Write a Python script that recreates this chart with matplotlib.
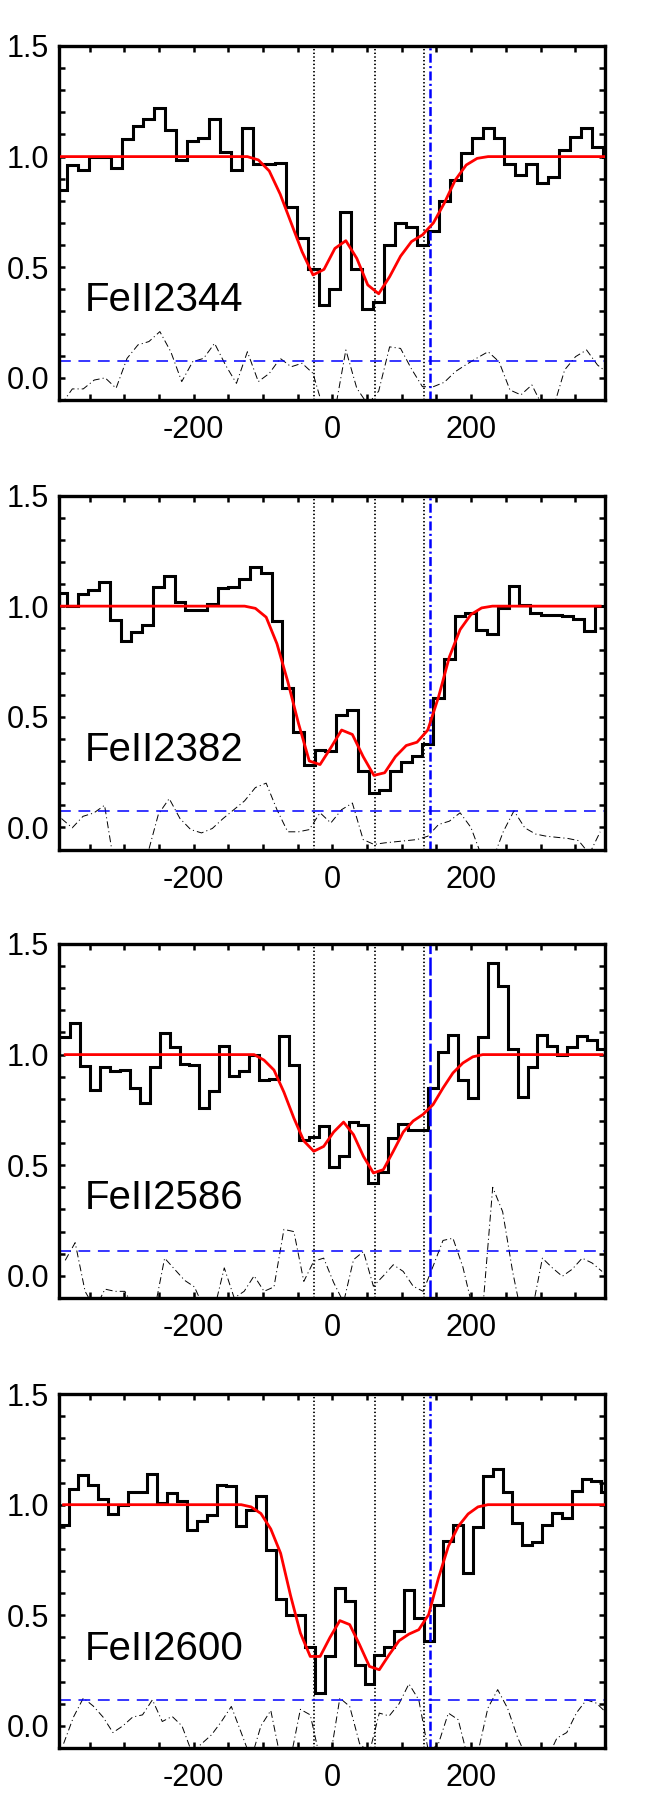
import matplotlib
matplotlib.use('Agg')
import matplotlib.pyplot as plt
import numpy as np
from matplotlib.ticker import MultipleLocator

plt.rcParams['font.family'] = ['Liberation Sans', 'DejaVu Sans']
plt.rcParams['axes.unicode_minus'] = False
plt.rcParams['lines.scale_dashes'] = False

# velocity grid of each spectrum: first pixel centre and pixel width (km/s)
v0_2344, dv_2344 = -390.6, 15.77
v0_2382, dv_2382 = -390.5, 15.53
v0_2586, dv_2586 = -385.1, 14.33
v0_2600, dv_2600 = -387.4, 14.22

flux_2344 = [0.85, 0.96, 0.94, 1.0, 1.0, 0.95, 1.08, 1.14, 1.17, 1.22,
             1.12, 0.985, 1.07, 1.085, 1.17, 1.02, 0.94, 1.13, 0.965, 0.965,
             0.97, 0.77, 0.63, 0.49, 0.33, 0.40, 0.75, 0.49, 0.31, 0.345,
             0.60, 0.70, 0.68, 0.60, 0.665, 0.80, 0.895, 1.015, 1.085, 1.13,
             1.085, 0.965, 0.915, 0.965, 0.88, 0.91, 1.03, 1.09, 1.13, 1.045,
             1.0]
model_2344 = [1.0] * 18 + [0.985, 0.935, 0.83, 0.70, 0.57, 0.465, 0.49, 0.585,
              0.62, 0.54, 0.42, 0.38, 0.457, 0.55, 0.616, 0.646, 0.70, 0.79,
              0.894, 0.962, 0.992] + [1.0] * 12
err_2344 = [-0.12, -0.05, -0.05, -0.01, 0.0, -0.047, 0.088, 0.149, 0.164, 0.209,
            0.118, -0.017, 0.073, 0.088, 0.156, 0.058, -0.025, 0.118, -0.017, 0.02,
            0.088, 0.05, 0.066, 0.02, -0.15, -0.15, 0.126, -0.047, -0.12, -0.06,
            0.14, 0.133, 0.04, -0.04, -0.04, -0.02, 0.028, 0.06, 0.09, 0.118,
            0.073, -0.055, -0.077, -0.032, -0.13, -0.13, 0.036, 0.096, 0.126, 0.058,
            0.02]

flux_2382 = [1.06, 1.0, 1.056, 1.075, 1.108, 0.937, 0.842, 0.882, 0.917, 1.087,
             1.138, 1.02, 0.982, 0.982, 1.008, 1.083, 1.086, 1.123, 1.178, 1.15,
             0.932, 0.628, 0.432, 0.284, 0.349, 0.345, 0.51, 0.53, 0.257, 0.156,
             0.167, 0.254, 0.295, 0.322, 0.379, 0.585, 0.762, 0.955, 0.967, 0.894,
             0.872, 0.992, 1.09, 1.007, 0.97, 0.962, 0.958, 0.955, 0.943, 0.887,
             1.0]
model_2382 = [1.0] * 18 + [0.99, 0.95, 0.83, 0.66, 0.47, 0.30, 0.284, 0.36,
              0.44, 0.42, 0.32, 0.235, 0.247, 0.32, 0.37, 0.385, 0.44, 0.59,
              0.77, 0.894, 0.962, 0.992] + [1.0] * 11
err_2382 = [0.04, -0.002, 0.05, 0.065, 0.10, -0.2, -0.25, -0.25, -0.12, 0.06,
            0.13, 0.04, -0.01, -0.025, -0.005, 0.04, 0.08, 0.12, 0.18, 0.20,
            0.08, -0.02, -0.02, -0.01, 0.066, 0.02, 0.08, 0.11, -0.055, -0.077,
            -0.07, -0.065, -0.06, -0.055, -0.04, 0.013, 0.028, 0.066, 0.0, -0.13,
            -0.15, -0.02, 0.075, -0.002, -0.03, -0.04, -0.045, -0.05, -0.06, -0.12,
            -0.02]

flux_2586 = [1.078, 1.143, 0.947, 0.842, 0.943, 0.925, 0.932, 0.849, 0.781, 0.943,
             1.098, 1.033, 0.958, 0.952, 0.759, 0.834, 1.04, 0.902, 0.925, 0.997,
             0.887, 0.891, 1.083, 0.955, 0.613, 0.628, 0.676, 0.49, 0.54, 0.695,
             0.68, 0.42, 0.468, 0.623, 0.688, 0.66, 0.66, 0.849, 1.01, 1.09,
             0.887, 0.804, 1.078, 1.414, 1.309, 1.027, 0.807, 0.943, 1.09, 1.037,
             1.0, 1.033, 1.083, 1.068, 1.025]
model_2586 = [1.0] * 20 + [0.975, 0.93, 0.83, 0.713, 0.61, 0.563, 0.585, 0.65,
              0.695, 0.638, 0.54, 0.465, 0.48, 0.563, 0.65, 0.70, 0.73, 0.774,
              0.849, 0.917, 0.962, 0.99] + [1.0] * 13
err_2586 = [0.07, 0.15, -0.07, -0.15, -0.06, -0.07, -0.07, -0.15, -0.15, -0.15,
            0.08, 0.03, -0.02, -0.05, -0.15, -0.15, 0.036, -0.1, -0.07, 0.0,
            -0.07, -0.05, 0.21, 0.2, -0.025, 0.066, 0.08, -0.03, -0.12, 0.073,
            0.11, -0.047, 0.0, 0.05, 0.02, -0.047, -0.07, 0.043, 0.16, 0.17,
            0.04, -0.15, -0.15, 0.40, 0.29, 0.02, -0.2, -0.15, 0.08, 0.036,
            -0.002, 0.03, 0.08, 0.058, 0.02]

flux_2600 = [0.91, 1.071, 1.132, 1.087, 1.025, 0.959, 1.0, 1.056, 1.057, 1.138,
             1.007, 1.053, 1.018, 0.884, 0.928, 0.955, 1.09, 1.086, 0.905, 0.978,
             1.037, 0.796, 0.575, 0.503, 0.503, 0.355, 0.149, 0.314, 0.623, 0.566,
             0.277, 0.19, 0.322, 0.355, 0.427, 0.616, 0.488, 0.385, 0.548, 0.837,
             0.91, 0.69, 0.897, 1.128, 1.163, 1.057, 0.917, 0.819, 0.831, 0.91,
             0.962, 0.94, 1.06, 1.117, 1.108, 1.057]
model_2600 = [1.0] * 19 + [0.99, 0.96, 0.89, 0.78, 0.59, 0.42, 0.314, 0.314,
              0.40, 0.476, 0.458, 0.367, 0.269, 0.254, 0.322, 0.385, 0.415,
              0.435, 0.503, 0.669, 0.812, 0.902, 0.958, 0.99] + [1.0] * 13
err_2600 = [-0.08, 0.04, 0.126, 0.09, 0.04, -0.03, 0.0, 0.04, 0.05, 0.118,
            0.02, 0.043, 0.0, -0.12, -0.08, -0.04, 0.02, 0.088, -0.03, -0.15,
            0.0, 0.07, -0.15, -0.15, 0.075, 0.05, -0.15, -0.15, 0.126, 0.088,
            -0.08, -0.12, 0.058, 0.045, 0.1, 0.19, 0.118, -0.12, -0.08, 0.058,
            0.028, -0.15, -0.12, 0.08, 0.164, 0.08, -0.05, -0.15, -0.15, -0.15,
            -0.055, -0.03, 0.06, 0.118, 0.103, 0.06]

line_names = ['FeII2344', 'FeII2382', 'FeII2586', 'FeII2600']
noise_level = [0.078, 0.073, 0.111, 0.115]
comp_vel = [-26, 62, 132]      # dotted component lines
blue_vel = 140

panels = [
    (v0_2344, dv_2344, flux_2344, model_2344, err_2344),
    (v0_2382, dv_2382, flux_2382, model_2382, err_2382),
    (v0_2586, dv_2586, flux_2586, model_2586, err_2586),
    (v0_2600, dv_2600, flux_2600, model_2600, err_2600),
]
bottoms = [0.7773, 0.5270, 0.2773, 0.0267]

fig = plt.figure(figsize=(6.64, 17.96), dpi=100)

for i, (v0, dv, flux, model, err) in enumerate(panels):
    ax = fig.add_axes([0.0889, bottoms[i], 0.8223, 0.1971])
    vel = v0 + dv * np.arange(len(flux))
    edges = np.append(vel - dv / 2, vel[-1] + dv / 2)

    ax.stairs(flux, edges, baseline=None, color='k', lw=2.2)
    ax.plot(vel, model, color='red', lw=2.0, zorder=3)
    ax.plot(vel, err, color='k', lw=0.7, dashes=(5, 2.2, 0.8, 2.2))

    for v in comp_vel:
        ax.axvline(v, color='k', ls=':', lw=1.3)
    if i == 2:
        ax.axvline(blue_vel, color='blue', lw=1.8, dashes=(13, 2.5))
    else:
        ax.axvline(blue_vel, color='blue', lw=1.8, dashes=(6.5, 2.4, 1.5, 2.4))
    ax.axhline(noise_level[i], color='blue', lw=1.1, dashes=(8.5, 5.5))

    ax.text(0.048, 0.25, line_names[i], transform=ax.transAxes,
            fontsize=29, ha='left', va='baseline')

    ax.set_xlim(-394, 393)
    ax.set_ylim(-0.1, 1.5)
    ax.xaxis.set_major_locator(MultipleLocator(200))
    ax.xaxis.set_minor_locator(MultipleLocator(50))
    ax.yaxis.set_major_locator(MultipleLocator(0.5))
    ax.yaxis.set_minor_locator(MultipleLocator(0.1))
    ax.yaxis.set_major_formatter(matplotlib.ticker.FormatStrFormatter('%.1f'))
    ax.tick_params(which='both', direction='in', top=True, right=True,
                   length=4.5, width=1.8, labelsize=22)
    ax.tick_params(axis='x', pad=11)
    ax.tick_params(axis='y', pad=7)
    for s in ax.spines.values():
        s.set_linewidth(2.4)

fig.savefig('out.png', dpi=100)
